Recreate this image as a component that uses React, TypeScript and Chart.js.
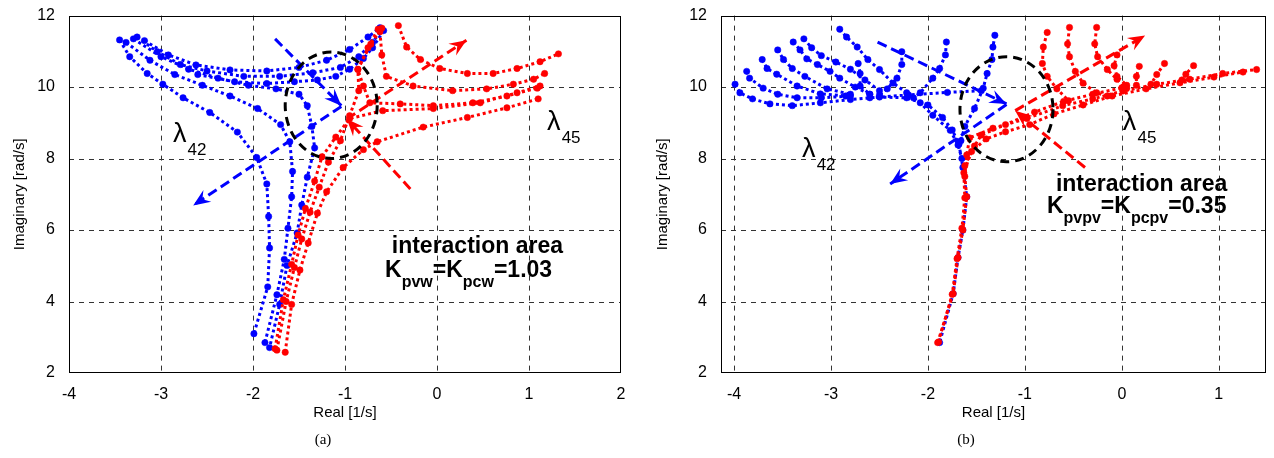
import React, { useEffect, useRef } from "react";
import { Chart, registerables } from "chart.js";

Chart.register(...registerables);

// ---------------- axes ----------------
const yTicks = [2, 4, 6, 8, 10, 12];
const yRange = [2, 12];
const xTicksA = [-4, -3, -2, -1, 0, 1, 2];
const xRangeA = [-4, 2];
const xTicksB = [-4, -3, -2, -1, 0, 1];
const xRangeB = [-4.135, 1.487];

// ---------------- plot (a): lambda42 (blue) ----------------
const aBlue1 = [[-3.45, 11.32], [-3.34, 10.85], [-3.15, 10.38], [-2.98, 10.08], [-2.76, 9.7], [-2.47, 9.29], [-2.17, 8.74], [-1.96, 8.03], [-1.85, 7.29], [-1.83, 6.38], [-1.82, 5.5], [-1.84, 4.41], [-1.99, 3.1]];
const aBlue2 = [[-3.38, 11.25], [-3.12, 10.75], [-2.85, 10.35], [-2.55, 10.05], [-2.25, 9.75], [-1.95, 9.4], [-1.7, 8.95], [-1.6, 8.47], [-1.57, 7.64], [-1.58, 6.93], [-1.62, 6.05], [-1.66, 5.18], [-1.74, 4.19], [-1.87, 2.85]];
const aBlue3 = [[-3.3, 11.35], [-3.0, 10.85], [-2.7, 10.5], [-2.38, 10.25], [-2.05, 10.05], [-1.75, 9.95], [-1.5, 9.8], [-1.41, 9.48], [-1.36, 8.9], [-1.33, 8.3], [-1.41, 7.48], [-1.47, 6.7], [-1.52, 5.92], [-1.63, 5.01], [-1.71, 3.92], [-1.82, 2.71]];
const aBlue4 = [[-3.26, 11.4], [-3.04, 10.99], [-2.79, 10.63], [-2.5, 10.45], [-2.1, 10.3], [-1.71, 10.3], [-1.35, 10.4], [-1.05, 10.55], [-0.85, 10.85], [-0.7, 11.25], [-0.6, 11.62]];
const aBlue5 = [[-3.18, 11.3], [-2.92, 10.9], [-2.62, 10.62], [-2.25, 10.48], [-1.85, 10.45], [-1.5, 10.55], [-1.2, 10.75], [-0.95, 11.05], [-0.75, 11.4], [-0.62, 11.66]];
const aBlue6 = [[-2.6, 10.35], [-2.2, 10.15], [-1.85, 10.1], [-1.55, 10.15], [-1.3, 10.2], [-1.1, 10.3], [-0.95, 10.5], [-0.8, 10.8], [-0.7, 11.1], [-0.58, 11.58]];

// ---------------- plot (a): lambda45 (red) ----------------
const aRed1 = [[-0.42, 11.72], [-0.33, 11.12], [-0.18, 10.77], [0.03, 10.52], [0.33, 10.38], [0.61, 10.38], [0.87, 10.52], [1.12, 10.71], [1.32, 10.93]];
const aRed2 = [[-0.62, 11.55], [-0.6, 10.9], [-0.55, 10.3], [-0.26, 10.03], [0.17, 9.9], [0.54, 9.95], [0.83, 10.08], [1.05, 10.22], [1.17, 10.38]];
const aRed3 = [[-0.64, 11.62], [-0.75, 11.1], [-0.86, 10.49], [-0.8, 10.03], [-0.73, 9.56], [-0.4, 9.53], [-0.04, 9.48], [0.39, 9.56], [0.76, 9.75], [1.09, 9.97]];
const aRed4 = [[-1.76, 2.68], [-1.67, 4.05], [-1.58, 5.04], [-1.51, 5.86], [-1.43, 6.6], [-1.33, 7.37], [-1.25, 8.05], [-1.1, 8.6], [-0.95, 9.12], [-0.59, 9.34], [-0.04, 9.4], [0.47, 9.56], [0.87, 9.84], [1.12, 10.03]];
const aRed5 = [[-1.65, 2.58], [-1.58, 3.92], [-1.49, 4.88], [-1.4, 5.64], [-1.3, 6.47], [-1.2, 7.07], [-1.02, 7.75], [-0.8, 8.25], [-0.65, 8.47], [-0.15, 8.88], [0.33, 9.15], [0.76, 9.42], [1.1, 9.67]];
const aRed6 = [[-1.74, 2.64], [-1.64, 4.0], [-1.55, 4.95], [-1.47, 5.75], [-1.38, 6.5], [-1.28, 7.2], [-1.18, 7.9], [-1.05, 8.5], [-0.95, 9.2], [-0.85, 9.9], [-0.86, 10.5], [-0.72, 11.2], [-0.6, 11.65]];

// ---------------- plot (a): arrows ----------------
const aArrowBlue1 = [[-1.76, 11.35], [-1.04, 9.48]];
const aArrowBlue2 = [[-1.04, 9.46], [-2.65, 6.69]];
const aArrowRed1 = [[-0.29, 7.15], [-0.98, 9.11]];
const aArrowRed2 = [[-0.98, 9.11], [0.32, 11.31]];

// ---------------- plot (b): lambda42 (blue) ----------------
const bBlue1 = [[-3.99, 10.08], [-3.94, 9.84], [-3.81, 9.67], [-3.63, 9.53], [-3.4, 9.48], [-3.11, 9.56], [-2.8, 9.65], [-2.5, 9.72], [-2.22, 9.7], [-2.0, 9.5], [-1.85, 9.15], [-1.75, 8.8], [-1.68, 8.4], [-1.64, 7.75], [-1.6, 6.93], [-1.64, 6.0], [-1.69, 5.23], [-1.74, 4.22], [-1.88, 2.85]];
const bBlue2 = [[-3.87, 10.44], [-3.84, 10.25], [-3.7, 9.97], [-3.55, 9.8], [-3.35, 9.7], [-3.1, 9.7], [-2.8, 9.75]];
const bBlue3 = [[-3.71, 10.77], [-3.66, 10.52], [-3.56, 10.36], [-3.35, 10.03], [-3.11, 9.81], [-2.85, 9.75]];
const bBlue4 = [[-3.55, 11.04], [-3.49, 10.77], [-3.4, 10.52], [-3.27, 10.3], [-3.04, 9.95], [-2.8, 9.8]];
const bBlue5 = [[-3.39, 11.26], [-3.32, 11.04], [-3.25, 10.79], [-3.14, 10.63], [-3.01, 10.44], [-2.91, 10.25], [-2.75, 10.0], [-2.6, 9.8]];
const bBlue6 = [[-3.28, 11.35], [-3.2, 11.1], [-3.1, 10.88], [-2.95, 10.7], [-2.8, 10.5], [-2.65, 10.2], [-2.5, 9.9]];
const bBlue7 = [[-2.91, 11.62], [-2.84, 11.4], [-2.73, 11.12], [-2.62, 10.77], [-2.5, 10.49], [-2.36, 10.11], [-2.22, 9.84], [-2.08, 9.56], [-1.95, 9.21], [-1.77, 8.79], [-1.69, 8.38], [-1.65, 8.0]];
const bBlue8 = [[-2.72, 10.66], [-2.7, 10.38], [-2.7, 10.03], [-2.6, 9.8]];
const bBlue9 = [[-2.27, 10.99], [-2.27, 10.63], [-2.32, 10.25], [-2.42, 9.95], [-2.5, 9.78]];
const bBlue10 = [[-1.81, 11.26], [-1.82, 10.9], [-1.88, 10.52], [-1.95, 10.25], [-2.08, 9.84], [-2.15, 9.7]];
const bBlue11 = [[-1.31, 11.45], [-1.33, 11.12], [-1.34, 10.77], [-1.39, 10.38], [-1.43, 9.97], [-1.52, 9.4], [-1.62, 8.9], [-1.66, 8.5]];
const bBlue12 = [[-2.6, 9.7], [-2.2, 9.78], [-1.8, 9.85], [-1.45, 9.9]];

// ---------------- plot (b): lambda45 (red) ----------------
const bRed1 = [[-1.9, 2.85], [-1.74, 4.22], [-1.69, 5.23], [-1.64, 6.0], [-1.6, 6.93], [-1.62, 7.5], [-1.6, 8.1], [-1.57, 8.58], [-1.33, 8.85], [-0.98, 9.12], [-0.61, 9.48], [-0.3, 9.67], [0.01, 9.89], [0.36, 10.08], [0.7, 10.22], [1.04, 10.38], [1.39, 10.49]];
const bRed2 = [[-1.89, 2.87], [-1.75, 4.2], [-1.7, 5.2], [-1.65, 6.05], [-1.62, 6.9], [-1.63, 7.6], [-1.55, 8.2], [-1.4, 8.55], [-1.2, 8.75], [-0.95, 8.95], [-0.7, 9.25], [-0.4, 9.5], [-0.1, 9.75], [0.25, 9.95], [0.6, 10.12], [0.95, 10.28], [1.25, 10.42]];
const bRed3 = [[-1.62, 7.8], [-1.52, 8.35], [-1.45, 8.66], [-1.2, 8.95], [-0.9, 9.3], [-0.6, 9.6], [-0.3, 9.8], [0.0, 9.98]];
const bRed4 = [[-0.77, 11.53], [-0.81, 11.12], [-0.82, 10.66], [-0.77, 10.3], [-0.67, 9.95], [-0.55, 9.62]];
const bRed5 = [[-0.54, 11.67], [-0.56, 11.21], [-0.54, 10.85], [-0.48, 10.44], [-0.4, 10.11], [-0.26, 9.84], [-0.15, 9.75]];
const bRed6 = [[-0.26, 11.67], [-0.28, 11.21], [-0.25, 10.85], [-0.15, 10.49], [-0.05, 10.22], [0.05, 9.97]];
const bRed7 = [[-0.05, 10.9], [-0.08, 10.6], [-0.05, 10.3], [0.05, 10.05]];
const bRed8 = [[0.18, 10.58], [0.15, 10.3], [0.15, 10.05]];
const bRed9 = [[0.44, 10.66], [0.36, 10.35], [0.3, 10.08]];
const bRed10 = [[0.74, 10.6], [0.66, 10.36], [0.62, 10.2]];

// ---------------- plot (b): arrows ----------------
const bArrowBlue1 = [[-2.52, 11.26], [-1.19, 9.53]];
const bArrowBlue2 = [[-1.19, 9.51], [-2.39, 7.29]];
const bArrowRed1 = [[-0.38, 7.75], [-1.1, 9.34]];
const bArrowRed2 = [[-1.1, 9.34], [0.24, 11.44]];

// interaction-area ellipses: [centerX, centerY, radiusX, radiusY]
const aEllipse = [-1.15, 9.49, 0.5, 1.49];
const bEllipse = [-1.19, 9.38, 0.48, 1.47];

// ---------------- styles ----------------
const BLUE = "#0000ff";
const RED = "#ff0000";
const FONT = '"Liberation Sans", Arial, Helvetica, sans-serif';

type XY = number[][];
type Run = { t: string; size: number; bold?: boolean; dy?: number };
type Label = { x: number; y: number; runs: Run[] };

const toPts = (a: XY) => a.map(([x, y]) => ({ x, y }));

function curve(a: XY, color: string, order: number) {
  return {
    data: toPts(a),
    showLine: true,
    borderColor: color,
    backgroundColor: color,
    borderWidth: 3,
    borderDash: [3, 3],
    pointRadius: 3.2,
    pointBackgroundColor: color,
    pointBorderColor: color,
    pointBorderWidth: 0.5,
    order,
    tension: 0,
  };
}
function arrow(a: XY, color: string) {
  return {
    data: toPts(a),
    showLine: true,
    borderColor: color,
    backgroundColor: color,
    borderWidth: 3,
    borderDash: [10, 5],
    pointRadius: 0,
    order: 0,
    arrow: true,
  };
}

const lam = (sub: string): Run[] => [
  { t: "λ", size: 27 },
  { t: " ", size: 4 },
  { t: sub, size: 17, dy: 13 },
];
const kLine = (s1: string, s2: string, v: string): Run[] => [
  { t: "K", size: 23, bold: true },
  { t: s1, size: 16, bold: true, dy: 10 },
  { t: "=K", size: 23, bold: true },
  { t: s2, size: 16, bold: true, dy: 10 },
  { t: "=" + v, size: 23, bold: true },
];

const labelsA: Label[] = [
  { x: -2.87, y: 8.466, runs: lam("42") },
  { x: 1.196, y: 8.795, runs: lam("45") },
  { x: -0.492, y: 5.37, runs: [{ t: "interaction area", size: 23, bold: true }] },
  { x: -0.565, y: 4.685, runs: kLine("pvw", "pcw", "1.03") },
];
const labelsB: Label[] = [
  { x: -3.299, y: 8.055, runs: lam("42") },
  { x: 0.01, y: 8.795, runs: lam("45") },
  { x: -0.68, y: 7.096, runs: [{ t: "interaction area", size: 23, bold: true }] },
  { x: -0.773, y: 6.466, runs: kLine("pvpv", "pcpv", "0.35") },
];

function drawHead(ctx: CanvasRenderingContext2D, x0: number, y0: number, x1: number, y1: number, color: string) {
  const ang = Math.atan2(y1 - y0, x1 - x0);
  const L = 17, W = 7, N = 11;
  ctx.save();
  ctx.translate(x1, y1);
  ctx.rotate(ang);
  ctx.beginPath();
  ctx.moveTo(0, 0);
  ctx.lineTo(-L, -W);
  ctx.lineTo(-N, 0);
  ctx.lineTo(-L, W);
  ctx.closePath();
  ctx.fillStyle = color;
  ctx.fill();
  ctx.restore();
}

type Spec = {
  xTicks: number[];
  xRange: number[];
  padding: { left: number; right: number; top: number; bottom: number };
  yWidth: number;
  xHeight: number;
  ellipse: number[];
  labels: Label[];
  datasets: () => any[];
};

function makeOverlay(spec: Spec) {
  return {
    id: "overlay",
    beforeDatasetsDraw(chart: any) {
      const { ctx, chartArea: a, scales } = chart;
      const xs = scales.x, ys = scales.y;
      ctx.save();
      ctx.strokeStyle = "#333";
      ctx.lineWidth = 1;
      ctx.setLineDash([5, 5]);
      for (const v of spec.xTicks) {
        const px = Math.round(xs.getPixelForValue(v)) + 0.5;
        if (px < a.left + 2 || px > a.right - 2) continue;
        ctx.beginPath();
        ctx.moveTo(px, a.top);
        ctx.lineTo(px, a.bottom);
        ctx.stroke();
      }
      for (const v of yTicks) {
        const py = Math.round(ys.getPixelForValue(v)) + 0.5;
        if (py < a.top + 2 || py > a.bottom - 2) continue;
        ctx.beginPath();
        ctx.moveTo(a.left, py);
        ctx.lineTo(a.right, py);
        ctx.stroke();
      }
      ctx.restore();
    },
    afterDatasetsDraw(chart: any) {
      const { ctx, chartArea: a, scales } = chart;
      const xs = scales.x, ys = scales.y;
      ctx.save();
      // arrow heads
      chart.data.datasets.forEach((ds: any, i: number) => {
        if (!ds.arrow) return;
        const pts = chart.getDatasetMeta(i).data;
        const p0 = pts[0], p1 = pts[pts.length - 1];
        drawHead(ctx, p0.x, p0.y, p1.x, p1.y, ds.borderColor);
      });
      // ellipse
      const [ecx, ecy, erx, ery] = spec.ellipse;
      const cx = xs.getPixelForValue(ecx), cy = ys.getPixelForValue(ecy);
      const rx = Math.abs(xs.getPixelForValue(ecx + erx) - cx);
      const ry = Math.abs(ys.getPixelForValue(ecy + ery) - cy);
      ctx.beginPath();
      ctx.setLineDash([9, 6]);
      ctx.lineWidth = 3;
      ctx.strokeStyle = "#000";
      ctx.ellipse(cx, cy, rx, ry, 0, 0, Math.PI * 2);
      ctx.stroke();
      ctx.setLineDash([]);
      // box
      ctx.lineWidth = 1;
      ctx.strokeStyle = "#000";
      const l = Math.round(a.left) + 0.5, t = Math.round(a.top) + 0.5;
      const r = Math.round(a.right) - 0.5, b = Math.round(a.bottom) - 0.5;
      ctx.strokeRect(l, t, r - l, b - t);
      // text labels
      ctx.fillStyle = "#000";
      ctx.textBaseline = "alphabetic";
      ctx.textAlign = "left";
      for (const lab of spec.labels) {
        let px = xs.getPixelForValue(lab.x);
        const py = ys.getPixelForValue(lab.y);
        for (const run of lab.runs) {
          ctx.font = `${run.bold ? "bold " : ""}${run.size}px ${FONT}`;
          ctx.fillText(run.t, px, py + (run.dy || 0));
          px += ctx.measureText(run.t).width;
        }
      }
      ctx.restore();
    },
  };
}

function buildConfig(spec: Spec): any {
  const tickFont = { family: FONT, size: 16 };
  const titleFont = { family: FONT, size: 15 };
  return {
    type: "scatter",
    data: { datasets: spec.datasets() },
    options: {
      animation: false,
      responsive: false,
      devicePixelRatio: 1,
      layout: { padding: spec.padding },
      plugins: { legend: { display: false }, tooltip: { enabled: false } },
      scales: {
        x: {
          type: "linear",
          position: "bottom",
          min: spec.xRange[0],
          max: spec.xRange[1],
          afterBuildTicks: (s: any) => {
            s.ticks = spec.xTicks.map((v) => ({ value: v }));
          },
          afterFit: (s: any) => {
            s.height = spec.xHeight;
          },
          grid: { display: false },
          border: { display: false },
          ticks: { color: "#000", padding: 4, font: tickFont, maxRotation: 0, autoSkip: false, callback: (v: any) => String(v) },
          title: { display: true, text: "Real [1/s]", color: "#000", padding: 0, font: titleFont },
        },
        y: {
          type: "linear",
          position: "left",
          min: yRange[0],
          max: yRange[1],
          afterBuildTicks: (s: any) => {
            s.ticks = yTicks.map((v) => ({ value: v }));
          },
          afterFit: (s: any) => {
            s.width = spec.yWidth;
          },
          grid: { display: false },
          border: { display: false },
          ticks: { color: "#000", padding: 6, font: tickFont, autoSkip: false, callback: (v: any) => String(v) },
          title: { display: true, text: "Imaginary [rad/s]", color: "#000", padding: 0, font: titleFont },
        },
      },
    },
    plugins: [makeOverlay(spec)],
  };
}

const specA: Spec = {
  xTicks: xTicksA,
  xRange: xRangeA,
  padding: { left: 11, right: 16, top: 8, bottom: 36 },
  yWidth: 58,
  xHeight: 49,
  ellipse: aEllipse,
  labels: labelsA,
  datasets: () => [
    ...[aBlue1, aBlue2, aBlue3, aBlue4, aBlue5, aBlue6].map((d) => curve(d, BLUE, 2)),
    ...[aRed1, aRed2, aRed3, aRed4, aRed5, aRed6].map((d) => curve(d, RED, 1)),
    arrow(aArrowBlue1, BLUE),
    arrow(aArrowBlue2, BLUE),
    arrow(aArrowRed1, RED),
    arrow(aArrowRed2, RED),
  ],
};

const specB: Spec = {
  xTicks: xTicksB,
  xRange: xRangeB,
  padding: { left: 17, right: 8, top: 8, bottom: 36 },
  yWidth: 67,
  xHeight: 49,
  ellipse: bEllipse,
  labels: labelsB,
  datasets: () => [
    ...[bBlue1, bBlue2, bBlue3, bBlue4, bBlue5, bBlue6, bBlue7, bBlue8, bBlue9, bBlue10, bBlue11, bBlue12].map((d) => curve(d, BLUE, 2)),
    ...[bRed1, bRed2, bRed3, bRed4, bRed5, bRed6, bRed7, bRed8, bRed9, bRed10].map((d) => curve(d, RED, 1)),
    arrow(bArrowBlue1, BLUE),
    arrow(bArrowBlue2, BLUE),
    arrow(bArrowRed1, RED),
    arrow(bArrowRed2, RED),
  ],
};

function Plot({ spec, left }: { spec: Spec; left: number }) {
  const ref = useRef<HTMLCanvasElement>(null);
  useEffect(() => {
    const chart = new Chart(ref.current as HTMLCanvasElement, buildConfig(spec));
    return () => chart.destroy();
  }, [spec]);
  return (
    <canvas
      ref={ref}
      width={637}
      height={458}
      style={{ position: "absolute", left, top: 0, width: 637, height: 458 }}
    />
  );
}

const captionStyle: React.CSSProperties = {
  position: "absolute",
  top: 431,
  width: 100,
  textAlign: "center",
  fontFamily: '"Liberation Serif", "Times New Roman", serif',
  fontSize: 15,
  lineHeight: "17px",
  color: "#000",
};

export default function App() {
  return (
    <div style={{ position: "absolute", left: 0, top: 0, width: 1274, height: 458, background: "#fff", overflow: "hidden" }}>
      <Plot spec={specA} left={0} />
      <Plot spec={specB} left={637} />
      <div style={{ ...captionStyle, left: 273 }}>(a)</div>
      <div style={{ ...captionStyle, left: 916 }}>(b)</div>
    </div>
  );
}
